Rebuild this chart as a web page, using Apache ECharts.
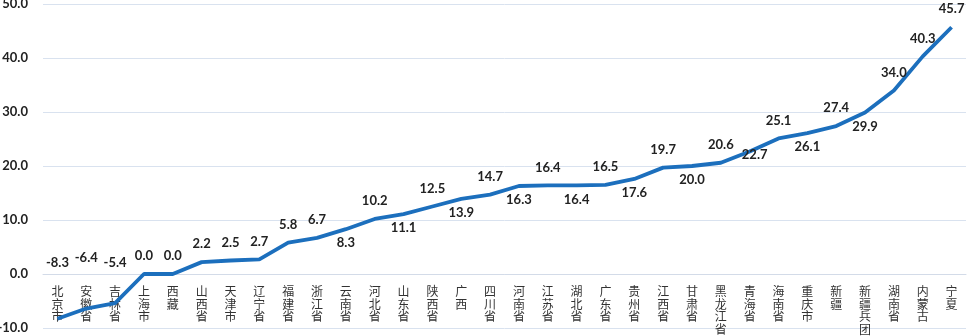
<!DOCTYPE html>
<html>
<head>
<meta charset="utf-8">
<script src="https://cdn.jsdelivr.net/npm/echarts@6/dist/echarts.min.js"></script>
<style>
html,body{margin:0;padding:0;background:#fff;}
#c{width:967px;height:336px;}
</style>
</head>
<body>
<div id="c"></div>
<script>
const categories = ['北京市','安徽省','吉林省','上海市','西藏','山西省','天津市','辽宁省','福建省','浙江省','云南省','河北省','山东省','陕西省','广西','四川省','河南省','江苏省','湖北省','广东省','贵州省','江西省','甘肃省','黑龙江省','青海省','海南省','重庆市','新疆','新疆兵团','湖南省','内蒙古','宁夏'];
const values = [-8.3,-6.4,-5.4,0.0,0.0,2.2,2.5,2.7,5.8,6.7,8.3,10.2,11.1,12.5,13.9,14.7,16.3,16.4,16.4,16.5,17.6,19.7,20.0,20.6,22.7,25.1,26.1,27.4,29.9,34.0,40.3,45.7];
const yTicks = [-10,0,10,20,30,40,50];
// label placement style per point
const labelPlace = ['top','top','top','top','top','top','top','top','top','top','bottom','top','bottom','top','bottom','top','bottom','top','bottom','top','bottom','top','bottom','top','inside','top','bottom','top','bottom','top','top','top'];

const W = 967, H = 336, gTop = 4, gBottom = 8;
const yMin = yTicks[0], yMax = yTicks[yTicks.length-1];
const plotH = H - gTop - gBottom;
const zeroOffset = -(0 - yMin) / (yMax - yMin) * plotH;

function labelFor(i, extraY){
  const p = labelPlace[i];
  const l = {show:true, position:p, distance:p==='bottom'?7:11};
  if (p==='inside') l.offset=[5,3];
  if (extraY!==undefined) l.offset=[0,extraY];
  return l;
}
function buildData(offsets){
  return values.map((v,i)=>({value:v, label:labelFor(i, offsets? offsets[i]:undefined)}));
}

const chart = echarts.init(document.getElementById('c'), null, {renderer:'canvas'});
const option = {
  animation:false,
  grid:{left:43,right:1,top:gTop,bottom:gBottom,containLabel:false,outerBoundsMode:'none'},
  xAxis:{
    type:'category',
    data:categories,
    offset:zeroOffset,
    axisTick:{show:false},
    axisLine:{show:true,onZero:false,lineStyle:{color:'#d3dbe8',width:1}},
    axisLabel:{
      interval:0,margin:11,hideOverlap:false,
      fontFamily:'Noto Sans CJK SC',fontSize:12,lineHeight:12.7,color:'#333',
      verticalAlign:'top',
      formatter:(s)=>s.split('').join('\n')
    }
  },
  yAxis:{
    type:'value',min:yMin,max:yMax,interval:10,
    axisLine:{show:false},axisTick:{show:false},
    splitLine:{lineStyle:{color:'#d9e2ef',width:1}},
    axisLabel:{margin:15,formatter:(v)=>v.toFixed(1),fontFamily:'Lato',fontWeight:'bold',fontSize:13,color:'#222'}
  },
  series:[{
    type:'line',
    data:buildData(),
    showSymbol:true,symbol:'circle',symbolSize:1,
    itemStyle:{color:'rgba(0,0,0,0)'},
    lineStyle:{color:'#1c6fbd',width:3.8},
    z:3,
    label:{show:true,formatter:(p)=>p.value.toFixed(1),fontFamily:'Lato',fontWeight:'bold',fontSize:13,color:'#222'}
  }]
};
chart.setOption(option);
// negative values: labels sit just above the zero line
const offs = values.map((v,i)=>{
  if (v>=0) return undefined;
  const py = chart.convertToPixel({gridIndex:0},[i,v])[1];
  const y0 = chart.convertToPixel({gridIndex:0},[i,0])[1];
  const target = y0 - (i===1 ? 16 : 11);
  return target - (py - 17.5);
});
chart.setOption({series:[{data:buildData(offs)}]});
</script>
</body>
</html>
